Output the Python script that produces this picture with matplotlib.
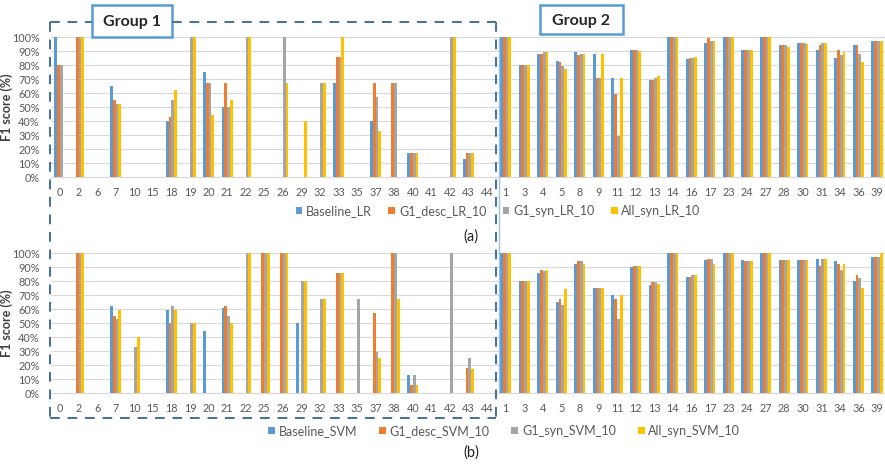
import numpy as np
import matplotlib
matplotlib.use('Agg')
import matplotlib.pyplot as plt
from matplotlib.patches import Rectangle
from matplotlib.lines import Line2D
from matplotlib.ticker import PercentFormatter

plt.rcParams['font.family'] = ['Lato', 'DejaVu Sans']

# category order as on the x axis (group 1 then group 2)
categories = ['0', '2', '6', '7', '10', '15', '18', '19', '20', '21', '22', '25',
              '26', '29', '32', '33', '35', '37', '38', '40', '41', '42', '43', '44',
              '1', '3', '4', '5', '8', '9', '11', '12', '13', '14', '16', '17',
              '23', '24', '27', '28', '30', '31', '34', '36', '39']

# (a) logistic regression, F1 in %
lr_baseline = [100, 0, 0, 65, 0, 0, 40, 0, 75, 50, 0, 0, 0, 0, 0, 67, 0, 40, 0, 17, 0, 0, 13, 0,
               100, 80, 88, 83, 89, 88, 71, 91, 69, 100, 84, 96, 100, 91, 100, 94, 96, 91, 85, 94, 97]
lr_desc = [80, 100, 0, 55, 0, 0, 43, 0, 67, 67, 0, 0, 0, 0, 0, 86, 0, 67, 67, 17, 0, 0, 17, 0,
           100, 80, 88, 82, 87, 71, 59, 91, 69, 100, 85, 99, 100, 91, 100, 94, 96, 94, 91, 94, 97]
lr_syn = [80, 100, 0, 52, 0, 0, 55, 100, 67, 50, 100, 0, 100, 0, 67, 86, 0, 57, 67, 17, 0, 100, 17, 0,
          100, 80, 89, 79, 88, 71, 29, 91, 71, 100, 85, 97, 100, 91, 100, 94, 96, 96, 87, 88, 97]
lr_all = [0, 100, 0, 52, 0, 0, 62, 100, 44, 55, 100, 0, 67, 40, 67, 100, 0, 33, 0, 17, 0, 100, 17, 0,
          100, 80, 89, 77, 88, 88, 71, 90, 72, 100, 86, 97, 100, 91, 100, 93, 95, 96, 89, 82, 97]

# (b) SVM, F1 in %
svm_baseline = [0, 0, 0, 62, 0, 0, 59, 0, 44, 61, 0, 0, 0, 50, 0, 0, 0, 0, 0, 13, 0, 0, 0, 0,
                100, 80, 86, 65, 92, 75, 70, 90, 77, 100, 83, 95, 100, 95, 100, 95, 95, 96, 94, 80, 97]
svm_desc = [0, 100, 0, 55, 0, 0, 50, 0, 0, 62, 0, 100, 100, 0, 0, 86, 0, 57, 100, 6, 0, 0, 18, 0,
            100, 80, 88, 67, 94, 75, 67, 91, 79, 100, 83, 96, 100, 94, 100, 95, 95, 91, 92, 84, 97]
svm_syn = [0, 100, 0, 53, 33, 0, 62, 50, 0, 55, 100, 100, 100, 80, 67, 86, 67, 29, 100, 13, 0, 100, 25, 0,
           100, 80, 87, 63, 94, 75, 53, 91, 79, 100, 84, 96, 100, 94, 100, 95, 95, 96, 88, 82, 97]
svm_all = [0, 100, 0, 59, 40, 0, 59, 50, 0, 50, 100, 100, 100, 80, 67, 86, 0, 25, 67, 6, 0, 0, 17, 0,
           100, 80, 88, 74, 92, 75, 70, 91, 78, 100, 84, 92, 100, 94, 100, 95, 95, 96, 92, 75, 100]

lr_names = ['Baseline_LR', 'G1_desc_LR_10', 'G1_syn_LR_10', 'All_syn_LR_10']
svm_names = ['Baseline_SVM', 'G1_desc_SVM_10', 'G1_syn_SVM_10', 'All_syn_SVM_10']
colors = ['#5B9BD5', '#ED7D31', '#A5A5A5', '#FFC000']

W, H = 885, 472
fig = plt.figure(figsize=(W / 100, H / 100), dpi=100)


def px_box(left, top, right, bottom):
    return [left / W, 1 - bottom / H, (right - left) / W, (bottom - top) / H]


def draw_panel(rect, series, names, legend_x, legend_y, colsp, label, label_y):
    ax = fig.add_axes(rect)
    x = np.arange(len(categories))
    w = 0.15
    handles = []
    for i, (vals, name) in enumerate(zip(series, names)):
        b = ax.bar(x + (i - 1.5) * w, np.array(vals) / 100, w, color=colors[i],
                   label=name, zorder=3)
        handles.append(b)
    ax.set_xlim(-0.5, 44.43)
    ax.set_ylim(0, 1)
    ax.set_yticks(np.arange(0, 1.01, 0.1))
    ax.yaxis.set_major_formatter(PercentFormatter(1.0, decimals=0))
    ax.set_xticks(x)
    ax.set_xticklabels(categories)
    ax.grid(axis='y', color='#D9D9D9', lw=0.8, zorder=0, clip_on=False)
    for s in ['top', 'right', 'left']:
        ax.spines[s].set_visible(False)
    ax.spines['bottom'].set_color('#D9D9D9')
    ax.tick_params(axis='both', length=0, labelsize=7.8, colors='#595959')
    ax.tick_params(axis='x', pad=7)
    ax.tick_params(axis='y', pad=8)
    ax.set_ylabel('F1 score (%)', fontsize=9, color='#404040', fontweight='bold')
    ax.yaxis.set_label_coords((13 - 50.7) / (885 - 50.7), 0.5)
    ax.patch.set_alpha(0)
    fig.legend(handles, names, loc='center', bbox_to_anchor=(legend_x / W, 1 - legend_y / H),
               ncol=4, frameon=False, fontsize=9, handlelength=0.55, handleheight=0.55,
               handletextpad=0.3, columnspacing=colsp, labelcolor='#595959')
    fig.text(471 / W, 1 - label_y / H, label, ha='center', va='center', fontsize=10.5, color='#222222')
    return ax


draw_panel(px_box(50.7, 37, 885, 177), [lr_baseline, lr_desc, lr_syn, lr_all], lr_names,
           498, 211, 1.3, '(a)', 237)
draw_panel(px_box(50.7, 253, 885, 393), [svm_baseline, svm_desc, svm_syn, svm_all], svm_names,
           504, 431, 1.75, '(b)', 453)

# overlay in pixel coordinates for the group frames
ov = fig.add_axes([0, 0, 1, 1], zorder=10)
ov.set_xlim(0, W)
ov.set_ylim(H, 0)
ov.axis('off')
ov.patch.set_alpha(0)

dash = dict(color='#41719C', lw=1.4, linestyle=(0, (5, 4)))
ov.add_line(Line2D([50, 50], [22, 418], **dash))
ov.add_line(Line2D([50, 496], [418, 418], **dash))
ov.add_line(Line2D([496, 496], [22, 418], **dash))
ov.add_line(Line2D([50, 92], [22, 22], **dash))
ov.add_line(Line2D([172, 496], [22, 22], **dash))
ov.add_line(Line2D([499, 499], [37, 392], color='#9DC3E6', lw=1.0))

for (l, t, r, b, txt) in [(92, 5, 172, 37, 'Group 1'), (540, 5, 623, 34, 'Group 2')]:
    ov.add_patch(Rectangle((l, t), r - l, b - t, facecolor='white', edgecolor='#5B9BD5', lw=1.8))
    ov.text((l + r) / 2, (t + b) / 2 + 1, txt, ha='center', va='center', fontsize=11.5,
            fontweight='bold', color='#262626')

fig.savefig('out.png', dpi=100)
